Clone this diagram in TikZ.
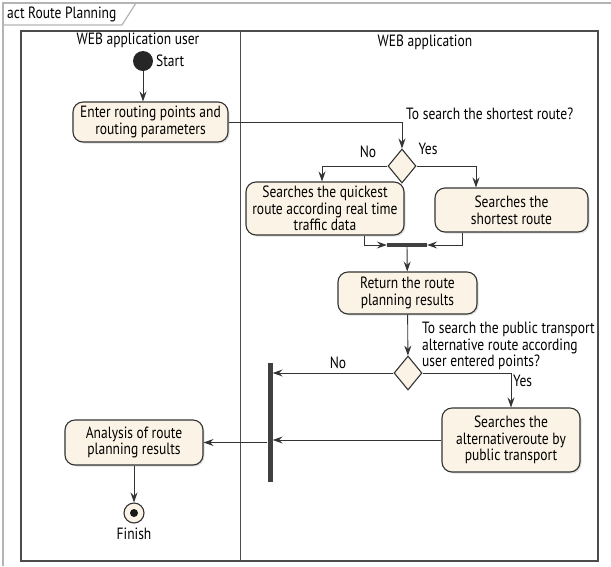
\documentclass[tikz,border=0pt]{standalone}
\usepackage{fontspec}
\setmainfont{PT Sans}[FakeStretch=0.83]
\usetikzlibrary{arrows.meta,shapes.geometric,shadows}

\definecolor{cream}{HTML}{FBF3E5}
\definecolor{edge}{HTML}{333333}
\definecolor{frame}{HTML}{B4B4B4}

\tikzset{
  every node/.style={font=\fontsize{16.3}{16.7}\selectfont, text=black},
  action/.style={draw=edge, fill=cream, line width=1.1pt, rounded corners=10pt,
    align=center, inner sep=1pt,
    drop shadow={opacity=0.25, shadow xshift=1.5pt, shadow yshift=-1.5pt}},
  decision/.style={diamond, draw=edge, fill=cream, line width=1.1pt, inner sep=0pt,
    minimum width=28pt, minimum height=34pt},
  syncbar/.style={fill=black!75, inner sep=0pt},
  flow/.style={draw=edge, line width=0.9pt, -{Stealth[length=10pt,width=7pt,inset=3.5pt]}}
}

\begin{document}
\begin{tikzpicture}[x=1pt,y=-1pt]
    \useasboundingbox (0,0) rectangle (611,566);

    % diagram frame and tab
    \draw[frame, line width=1.5pt] (3,566) -- (3,3) -- (611,3);
    \draw[frame, line width=1.2pt] (3,25) -- (122,25) -- (136,3);
    \node[anchor=west, inner sep=2pt] (tab) at (5,14) {act Route Planning};

    % swimlanes
    \draw[black!70, line width=1.2pt] (21,31) rectangle (598,561);
    \draw[black!70, line width=0.8pt] (240,31) -- (240,561);
    \node (laneuser) at (138,40) {WEB application user};
    \node (laneapp) at (425,42) {WEB application};

    % states
    \node[circle, fill=black!85, minimum size=20pt, inner sep=0pt] (start) at (143,61) {};
    \node[anchor=west, inner sep=1pt] (startlbl) at (155,61) {Start};
    \node[circle, draw=edge, fill=cream, line width=1.1pt, minimum size=20pt, inner sep=0pt] (finish) at (134,513) {};
    \fill[black!90] (finish) circle (4pt);
    \node (finishlbl) at (134,534) {Finish};

    % actions
    \node[action, minimum width=155pt, minimum height=40pt] (enter) at (150.5,122)
        {Enter routing points and\\routing parameters};
    \node[action, minimum width=158pt, minimum height=53pt] (quick) at (325,208.5)
        {Searches the quickest\\route according real time\\traffic data};
    \node[action, minimum width=153pt, minimum height=44pt] (shortest) at (511.5,210)
        {Searches the\\shortest route};
    \node[action, minimum width=139pt, minimum height=42pt] (results) at (407.5,293)
        {Return the route\\planning results};
    \node[action, minimum width=138pt, minimum height=64pt] (alt) at (511,440)
        {Searches the\\alternativeroute by\\public transport};
    \node[action, minimum width=138pt, minimum height=45pt] (analysis) at (134,442.5)
        {Analysis of route\\planning results};

    % decisions and bars
    \node[decision] (askshort) at (402,166) {};
    \node[decision] (askpublic) at (408,373) {};
    \node[syncbar, minimum width=40pt, minimum height=4pt] (fork) at (407,245) {};
    \node[syncbar, minimum width=5pt, minimum height=119pt] (join) at (270,422.5) {};

    % guards
    \node[anchor=south west, inner sep=1pt] (qshort) at (405,121) {To search the shortest route?};
    \node (noshort) at (368,152) {No};
    \node (yesshort) at (428,149) {Yes};
    \node[anchor=west, align=left, inner sep=1pt] (qpublic) at (421,346)
        {To search the public transport\\alternative route according\\user entered points?};
    \node (nopublic) at (338,363) {No};
    \node[anchor=west, inner sep=1pt] (yespublic) at (512,381) {Yes};

    % flows
    \draw[flow] (start) -- (start |- enter.north);
    \draw[flow] (enter.east) -| (askshort.north);
    \draw[flow] (askshort.west) -| ([xshift=-3pt]quick.north);
    \draw[flow] (askshort.east) -| ([xshift=-35.5pt]shortest.north);
    \draw[flow] ([xshift=39pt]quick.south) |- (fork.west);
    \draw[flow] ([xshift=-49.5pt]shortest.south) |- (fork.east);
    \draw[flow] (fork) -- (results);
    \draw[flow] (results) -- (askpublic);
    \draw[flow] (askpublic.west) -- (askpublic.west -| join.east);
    \draw[flow] (askpublic.east) -| (alt.north);
    \draw[flow] (alt.west) -- (alt.west -| join.east);
    \draw[flow] (join.west |- analysis.east) -- (analysis.east);
    \draw[flow] (analysis) -- (finish);
\end{tikzpicture}
\end{document}
